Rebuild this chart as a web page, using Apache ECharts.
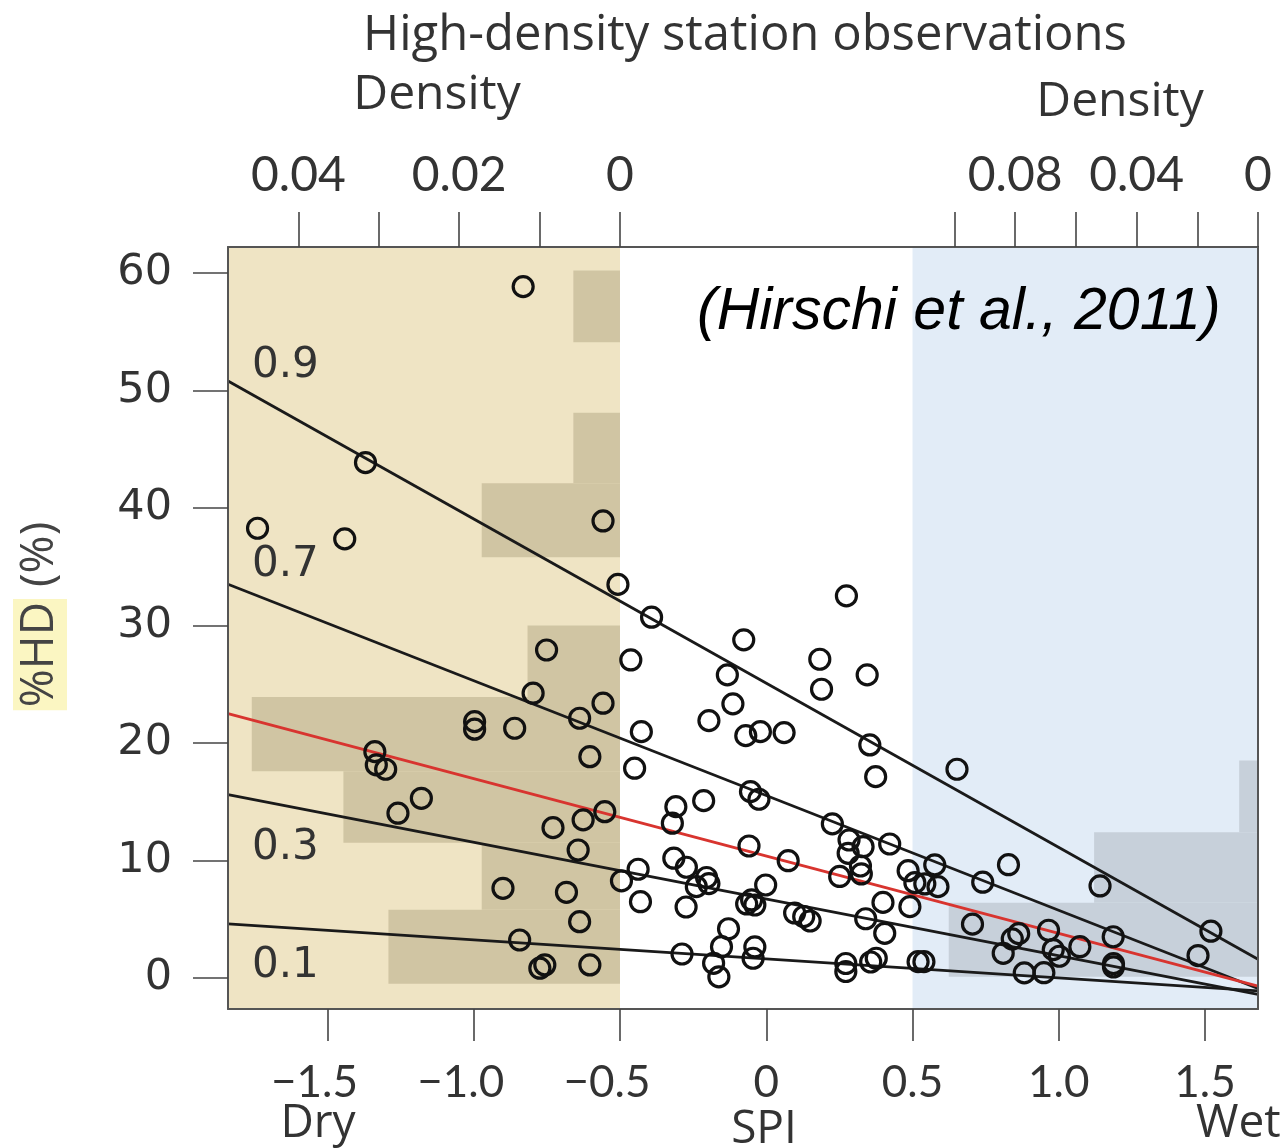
<!DOCTYPE html>
<html>
<head>
<meta charset="utf-8">
<script src="https://cdn.jsdelivr.net/npm/echarts@6/dist/echarts.min.js"></script>
<style>
  html, body { margin: 0; padding: 0; background: #ffffff; }
  #chart { width: 1287px; height: 1148px; }
</style>
</head>
<body>
<div id="chart"></div>
<script>
// ---------------- data ----------------
// station observations: SPI (x) and %HD (y)
const spi = [
  -0.831, -1.370, -1.739, -1.441, -0.558, -0.507, -0.751, -0.797, -0.558, -0.638,
  -0.997, -0.997, -0.860, -1.338, -1.333, -1.301, -0.603, -1.179, -1.259, -0.552,
  -0.626, -0.729, -0.643, -0.495, -0.900, -0.683, -0.638, -0.843, -0.757, -0.774,
  -0.603,
  -0.392, 0.274, -0.077, -0.463, 0.183, -0.133, 0.345, 0.189, -0.114, -0.196,
  -0.427, -0.070, -0.020, 0.061, 0.354, -0.450, 0.374, -0.054, -0.025, -0.309,
  -0.214, -0.321, 0.226, 0.283, 0.331, 0.422, -0.059, 0.280, 0.075, -0.316,
  -0.273, -0.438, 0.322, 0.251, 0.325, 0.485, -0.204, -0.239, -0.196, -0.002,
  -0.050, -0.067, -0.039, -0.430, -0.274, 0.097, 0.128, 0.150, 0.399, 0.491,
  0.340, 0.405, -0.129, -0.153, -0.039, -0.288, -0.180, -0.045, -0.162, 0.272,
  0.272, 0.357, 0.376, 0.519, 0.539,
  0.652, 0.576, 0.508, 0.542, 0.587, 0.828, 0.740, 1.141, 0.705, 0.863,
  0.841, 0.965, 1.186, 1.072, 0.810, 0.981, 1.002, 1.520, 1.476, 1.187,
  1.187, 0.882, 0.949
];
const hd = [
  58.83, 43.86, 38.27, 37.36, 38.89, 33.49, 27.91, 24.23, 23.38, 22.10,
  21.81, 21.17, 21.25, 19.26, 18.13, 17.76, 18.83, 15.29, 14.02, 14.15,
  13.45, 12.79, 10.89, 8.26, 7.63, 7.29, 4.79, 3.23, 1.11, 0.83,
  1.11,
  30.70, 32.51, 28.77, 27.06, 27.12, 25.79, 25.79, 24.57, 23.32, 21.90,
  20.96, 20.62, 20.96, 20.88, 19.83, 17.85, 17.13, 15.86, 15.21, 14.58,
  15.09, 13.17, 13.11, 11.74, 11.17, 11.40, 11.23, 10.61, 9.98, 10.19,
  9.42, 9.25, 9.53, 8.64, 8.85, 9.13, 8.55, 7.77, 8.03, 7.91,
  6.64, 6.30, 6.21, 6.49, 6.04, 5.53, 5.23, 4.85, 6.43, 6.07,
  5.04, 3.80, 4.19, 2.66, 2.64, 2.04, 1.25, 1.68, 0.09, 1.23,
  0.55, 1.36, 1.68, 1.39, 1.39,
  17.76, 9.62, 8.11, 8.00, 7.77, 9.64, 8.15, 7.83, 4.58, 3.77,
  3.32, 4.06, 3.51, 2.66, 2.10, 2.41, 1.85, 3.98, 1.91, 1.22,
  0.94, 0.43, 0.45
];

// quantile regression lines: [SPI, %HD] at both ends
const quantileNames = ['0.9', '0.7', '0.5', '0.3', '0.1'];
const q90 = [[-1.84, 50.8], [1.681, 1.6]];
const q70 = [[-1.84, 33.5], [1.681, -0.9]];
const q50 = [[-1.84, 22.5], [1.681, -0.7]];
const q30 = [[-1.84, 15.6], [1.681, -1.4]];
const q10 = [[-1.84, 4.6], [1.681, -1.1]];

// dry-year histogram (%HD bin edges, density)
const dryBinEdges = [-0.5, 5.8, 11.5, 17.6, 23.9, 30.0, 35.8, 42.1, 48.1, 54.1, 60.2];
const dryDensity  = [0.0288, 0.0172, 0.0344, 0.0458, 0.0115, 0, 0.0172, 0.0058, 0, 0.0058];
// wet-year histogram
const wetBinEdges = [0.1, 6.4, 12.4, 18.5];
const wetDensity  = [0.1019, 0.054, 0.0062];

// SPI thresholds of the shaded dry / wet regions
const dryLimit = -0.5;
const wetLimit = 0.5;

// tick values / labels
const spiTicks = [-1.5, -1.0, -0.5, 0, 0.5, 1.0, 1.5];
const hdTicks = [0, 10, 20, 30, 40, 50, 60];
const dryDensTicks = [0, 0.01, 0.02, 0.03, 0.04];
const dryDensLabels = [0, 0.02, 0.04];
const wetDensTicks = [0, 0.02, 0.04, 0.06, 0.08, 0.10];
const wetDensLabels = [0, 0.04, 0.08];

// ---------------- layout ----------------
const xMin = -1.84, xMax = 1.681, yMin = -2.64, yMax = 62.2;
const G = { left: 228, top: 247, width: 1030, height: 762 };
const pxPerSpi = G.width / (xMax - xMin);
const dryGridRight = G.left + (dryLimit - xMin) * pxPerSpi;
const wetGridLeft = G.left + (wetLimit - xMin) * pxPerSpi;
const dryDensMax = (dryGridRight - G.left) / 8040;
const wetDensMax = (G.left + G.width - wetGridLeft) / 3035;

const numFont = 'DejaVu Sans';
const txtColor = '#333';
const frameColor = '#555';

const chart = echarts.init(document.getElementById('chart'), null, { renderer: 'canvas' });

function histRender(color) {
  return function (params, api) {
    const d = api.value(0), y0 = api.value(1), y1 = api.value(2);
    const a = api.coord([0, y1]);
    const b = api.coord([d, y0]);
    return {
      type: 'rect',
      shape: { x: Math.min(a[0], b[0]), y: Math.min(a[1], b[1]),
               width: Math.abs(a[0] - b[0]), height: Math.abs(a[1] - b[1]) },
      style: { fill: color }
    };
  };
}
const dryHist = dryDensity.map((d, i) => [d, dryBinEdges[i], dryBinEdges[i + 1]]).filter(r => r[0] > 0);
const wetHist = wetDensity.map((d, i) => [d, wetBinEdges[i], wetBinEdges[i + 1]]).filter(r => r[0] > 0);

const spiFmt = v => {
  if (Math.abs(v) < 1e-9) return '0';
  if (v < 0) return '{neg|\u2212' + Math.abs(v).toFixed(1) + '}';
  return v.toFixed(1);
};
const densFmt = v => Math.abs(v) < 1e-9 ? '0' : v.toFixed(2);

const lineDefs = [q90, q70, q50, q30, q10];
const lineSeries = lineDefs.map((pts, i) => ({
  type: 'line', xAxisIndex: 0, yAxisIndex: 0, name: quantileNames[i],
  data: pts, symbol: 'none', z: 4, silent: true,
  lineStyle: { color: quantileNames[i] === '0.5' ? '#d8342f' : '#1a1a1a', width: 2.8 }
}));

const hiddenY = (gi) => ({ gridIndex: gi, type: 'value', min: yMin, max: yMax, show: false });

const option = {
  animation: false,
  backgroundColor: '#ffffff',
  grid: [
    { left: G.left, top: G.top, width: G.width, height: G.height },
    { left: G.left, top: G.top, width: dryGridRight - G.left, height: G.height },
    { left: wetGridLeft, top: G.top, width: G.left + G.width - wetGridLeft, height: G.height }
  ],
  xAxis: [
    { gridIndex: 0, type: 'value', min: xMin, max: xMax, position: 'bottom', z: 10,
      splitLine: { show: false },
      axisLine: { show: true, onZero: false, lineStyle: { color: frameColor, width: 2 } },
      axisTick: { show: true, customValues: spiTicks, length: 32, lineStyle: { color: '#444', width: 1.6 } },
      axisLabel: { customValues: spiTicks, formatter: spiFmt, margin: 52,
                   fontFamily: 'Lato', fontSize: 44, color: txtColor,
                   rich: { neg: { fontFamily: 'Lato', fontSize: 44, color: txtColor, padding: [0, 26, 0, 0] } } } },
    { gridIndex: 0, type: 'value', min: xMin, max: xMax, position: 'top', z: 10,
      splitLine: { show: false },
      axisLine: { show: true, onZero: false, lineStyle: { color: frameColor, width: 2 } },
      axisTick: { show: false }, axisLabel: { show: false } },
    { gridIndex: 1, type: 'value', min: 0, max: dryDensMax, inverse: true, position: 'top', z: 10,
      splitLine: { show: false }, axisLine: { show: false, onZero: false },
      axisTick: { show: true, customValues: dryDensTicks, length: 35, lineStyle: { color: '#444', width: 1.6 } },
      axisLabel: { customValues: dryDensLabels, formatter: densFmt, margin: 47,
                   fontFamily: 'Lato', fontSize: 48, color: txtColor } },
    { gridIndex: 2, type: 'value', min: 0, max: wetDensMax, inverse: true, position: 'top', z: 10,
      splitLine: { show: false }, axisLine: { show: false, onZero: false },
      axisTick: { show: true, customValues: wetDensTicks, length: 35, lineStyle: { color: '#444', width: 1.6 } },
      axisLabel: { customValues: wetDensLabels, formatter: densFmt, margin: 47,
                   fontFamily: 'Lato', fontSize: 48, color: txtColor } }
  ],
  yAxis: [
    { gridIndex: 0, type: 'value', min: yMin, max: yMax, position: 'left', z: 10,
      splitLine: { show: false },
      axisLine: { show: true, onZero: false, lineStyle: { color: frameColor, width: 2 } },
      axisTick: { show: true, customValues: hdTicks, length: 35, lineStyle: { color: '#444', width: 1.6 } },
      axisLabel: { customValues: hdTicks, margin: 56, fontFamily: numFont, fontSize: 43, color: txtColor } },
    { gridIndex: 0, type: 'value', min: yMin, max: yMax, position: 'right', z: 10,
      splitLine: { show: false },
      axisLine: { show: true, onZero: false, lineStyle: { color: frameColor, width: 2 } },
      axisTick: { show: false }, axisLabel: { show: false } },
    hiddenY(1),
    hiddenY(2)
  ],
  series: [
    { type: 'scatter', xAxisIndex: 0, yAxisIndex: 0, data: [], z: 1, silent: true,
      markArea: { silent: true, itemStyle: { color: '#efe4c4' },
                  data: [[{ xAxis: xMin }, { xAxis: dryLimit }]] } },
    { type: 'scatter', xAxisIndex: 0, yAxisIndex: 0, data: [], z: 1, silent: true,
      markArea: { silent: true, itemStyle: { color: '#e2ecf7' },
                  data: [[{ xAxis: wetLimit }, { xAxis: xMax }]] } },
    { type: 'custom', xAxisIndex: 2, yAxisIndex: 2, data: dryHist, z: 2, silent: true,
      encode: { x: 0, y: [1, 2] }, renderItem: histRender('#d0c5a3') },
    { type: 'custom', xAxisIndex: 3, yAxisIndex: 3, data: wetHist, z: 2, silent: true,
      encode: { x: 0, y: [1, 2] }, renderItem: histRender('#c7d0da') },
    ...lineSeries,
    { type: 'scatter', xAxisIndex: 0, yAxisIndex: 0, z: 5, silent: true,
      data: spi.map((x, i) => [x, hd[i]]),
      symbol: 'circle', symbolSize: 20,
      itemStyle: { color: 'rgba(0,0,0,0)', borderColor: '#111', borderWidth: 3.2, opacity: 1 } }
  ],
  graphic: [
    { type: 'text', x: 745, y: 36, z: 20,
      style: { text: 'High-density station observations', font: '49px "Open Sans"', fill: txtColor,
               align: 'center', verticalAlign: 'middle' } },
    { type: 'text', x: 437, y: 95, z: 20,
      style: { text: 'Density', font: '48px "Open Sans"', fill: txtColor, align: 'center', verticalAlign: 'middle' } },
    { type: 'text', x: 1120, y: 102, z: 20,
      style: { text: 'Density', font: '48px "Open Sans"', fill: txtColor, align: 'center', verticalAlign: 'middle' } },
    { type: 'text', x: 697, y: 313, z: 20,
      style: { text: '(Hirschi et al., 2011)', font: 'italic 59px "Liberation Sans"', fill: '#000', align: 'left', verticalAlign: 'middle' } },
    { type: 'text', x: 252, y: 366, z: 20,
      style: { text: '0.9', font: '42px "DejaVu Sans"', fill: txtColor, verticalAlign: 'middle' } },
    { type: 'text', x: 252, y: 565, z: 20,
      style: { text: '0.7', font: '42px "DejaVu Sans"', fill: txtColor, verticalAlign: 'middle' } },
    { type: 'text', x: 252, y: 848, z: 20,
      style: { text: '0.3', font: '42px "DejaVu Sans"', fill: txtColor, verticalAlign: 'middle' } },
    { type: 'text', x: 252, y: 966, z: 20,
      style: { text: '0.1', font: '42px "DejaVu Sans"', fill: txtColor, verticalAlign: 'middle' } },
    { type: 'text', x: 318, y: 1124, z: 20,
      style: { text: 'Dry', font: '46px "Open Sans"', fill: txtColor, align: 'center', verticalAlign: 'middle' } },
    { type: 'text', x: 764, y: 1130, z: 20,
      style: { text: 'SPI', font: '46px "Open Sans"', fill: txtColor, align: 'center', verticalAlign: 'middle' } },
    { type: 'text', x: 1196, y: 1124, z: 20,
      style: { text: 'Wet', font: '46px "Open Sans"', fill: txtColor, align: 'left', verticalAlign: 'middle' } },
    { type: 'text', x: 40, y: 616, rotation: Math.PI / 2, z: 20,
      style: { text: '{hl|%HD} (%)', align: 'center', verticalAlign: 'middle',
               font: '46px "Open Sans"', fill: '#444',
               rich: { hl: { backgroundColor: '#fbf6c2', padding: [4, 3, 4, 3],
                             font: '46px "Open Sans"', fill: '#444' } } } }
  ]
};

chart.setOption(option);
</script>
</body>
</html>
